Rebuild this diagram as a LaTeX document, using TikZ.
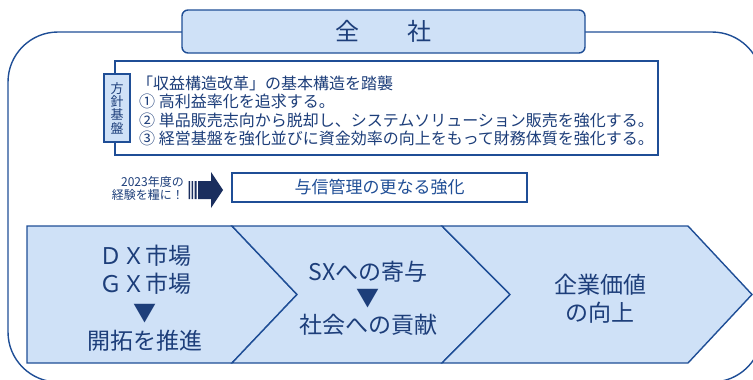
\documentclass[tikz,border=0pt]{standalone}
\usepackage{fontspec}
\setmainfont{Noto Sans CJK JP}[Script=CJK, Language=Japanese]
\definecolor{navy}{HTML}{1F4E96}
\definecolor{inktext}{HTML}{1D3E7A}
\definecolor{paleblue}{HTML}{CFE1F7}
\definecolor{arrowdark}{HTML}{1A2E5E}
\tikzset{
  frameline/.style={draw=navy, line width=1.4pt},
  chevron/.style={frameline, fill=paleblue},
  boxed/.style={frameline, fill=white, inner sep=0pt},
  policyline/.style={anchor=west, inner sep=0pt, text=inktext, font=\fontsize{16}{18}\selectfont},
  bigtext/.style={align=center, inner sep=0pt, text=inktext},
}
\begin{document}
\begin{tikzpicture}[x=1pt,y=-1pt]
		\useasboundingbox (0,0) rectangle (753,380);
		\clip (0,0) rectangle (753,380);
		
		\draw[frameline, rounded corners=50pt] (8,32) rectangle (762,382);
		
		\node[frameline, fill=paleblue, rounded corners=6pt, minimum width=403pt, minimum height=43pt, text=inktext, font=\fontsize{24}{26}\selectfont] (zensha) at (383.5,31.5) {全　　社};
		
		\node[boxed, minimum width=543pt, minimum height=94pt] (policy) at (386.5,108) {};
		\node[frameline, fill=paleblue, inner sep=0pt, minimum width=26pt, minimum height=68pt, align=center, text=inktext, font=\fontsize{13}{13.4}\selectfont] (hoshin) at (117,108) {方\\針\\基\\盤};
		
		\node[policyline] (p0) at (137,83) {「収益構造改革」の基本構造を踏襲};
		\node[policyline] (p1) at (139,101.5) {① 高利益率化を追求する。};
		\node[policyline] (p2) at (139,120) {② 単品販売志向から脱却し、システムソリューション販売を強化する。};
		\node[policyline] (p3) at (139,138) {③ 経営基盤を強化並びに資金効率の向上をもって財務体質を強化する。};
		
		\node[anchor=east, align=right, inner sep=0pt, text=inktext, font=\fontsize{12}{13}\selectfont] (keiken) at (184,188) {2023年度の\\経験を糧に！};
		
		\fill[arrowdark] (188.5,181) rectangle (190,199)
			(191.5,181) rectangle (193,199)
			(194.5,181) rectangle (196.5,199)
			(198,181) -- (211,181) -- (211,172) -- (223,190) -- (211,208) -- (211,199) -- (198,199) -- cycle;
		
		\node[boxed, minimum width=295pt, minimum height=29pt, text=navy, font=\fontsize{17}{19}\selectfont] (yoshin) at (379.5,187.5) {与信管理の更なる強化};
		
		\draw[chevron] (27,226) -- (232,226) -- (297,294.5) -- (232,363) -- (27,363) -- cycle;
		\draw[chevron] (232,226) -- (442,226) -- (510,294.5) -- (442,363) -- (232,363) -- (297,294.5) -- cycle;
		\draw[chevron] (442,226) -- (688,226) -- (752,294.5) -- (688,363) -- (442,363) -- (510,294.5) -- cycle;
		
		\node[bigtext, font=\fontsize{23}{28.5}\selectfont] (dx) at (145,298) {ＤＸ市場\\ＧＸ市場\\▼\\開拓を推進};
		\node[bigtext, font=\fontsize{23}{26.5}\selectfont] (sx) at (368,298) {SXへの寄与\\▼\\社会への貢献};
		\node[bigtext, font=\fontsize{23}{28}\selectfont] (kigyo) at (600,299) {企業価値\\の向上};
\end{tikzpicture}
\end{document}
